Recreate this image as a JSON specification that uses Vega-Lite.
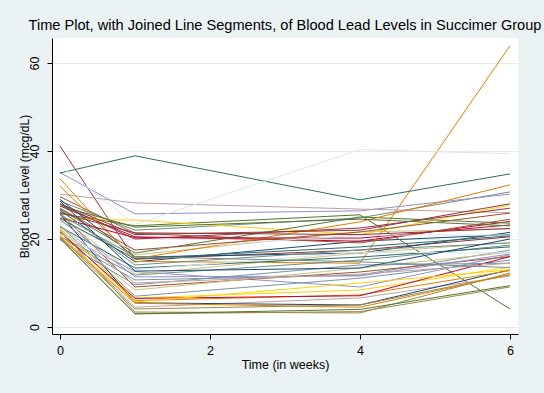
{
  "$schema": "https://vega.github.io/schema/vega-lite/v6.json",
  "width": 466,
  "height": 296,
  "autosize": "none",
  "padding": {"left": 52, "top": 38, "right": 26, "bottom": 59},
  "background": "#EAF2F3",
  "view": {"fill": "white", "stroke": null},
  "title": {
    "text": "Time Plot, with Joined Line Segments, of Blood Lead Levels in Succimer Group",
    "font": "Liberation Sans",
    "fontSize": 14.6,
    "fontWeight": "normal",
    "color": "#000000",
    "anchor": "middle",
    "offset": 5
  },
  "datasets": {
    "lead": [
      {"id": 1, "w0": 26.5, "w1": 14.8, "w4": 19.5, "w6": 21.0},
      {"id": 2, "w0": 41.1, "w1": 15.4, "w4": 17.5, "w6": 20.5},
      {"id": 3, "w0": 25.8, "w1": 23.0, "w4": 25.5, "w6": 4.1},
      {"id": 4, "w0": 33.7, "w1": 14.9, "w4": 14.5, "w6": 63.9},
      {"id": 5, "w0": 28.6, "w1": 22.0, "w4": 24.8, "w6": 30.7},
      {"id": 6, "w0": 27.5, "w1": 20.5, "w4": 19.5, "w6": 24.0},
      {"id": 7, "w0": 35.1, "w1": 25.7, "w4": 26.4, "w6": 30.2},
      {"id": 8, "w0": 24.0, "w1": 16.4, "w4": 21.6, "w6": 22.3},
      {"id": 9, "w0": 29.6, "w1": 21.3, "w4": 19.1, "w6": 24.5},
      {"id": 10, "w0": 20.4, "w1": 10.7, "w4": 11.8, "w6": 17.5},
      {"id": 11, "w0": 35.0, "w1": 38.9, "w4": 28.9, "w6": 34.8},
      {"id": 12, "w0": 22.2, "w1": 3.4, "w4": 3.2, "w6": 12.3},
      {"id": 13, "w0": 30.2, "w1": 28.2, "w4": 26.8, "w6": 26.0},
      {"id": 14, "w0": 24.5, "w1": 24.3, "w4": 21.0, "w6": 27.7},
      {"id": 15, "w0": 36.6, "w1": 23.3, "w4": 40.3, "w6": 39.4},
      {"id": 16, "w0": 29.0, "w1": 15.9, "w4": 16.8, "w6": 21.5},
      {"id": 17, "w0": 27.9, "w1": 20.0, "w4": 22.5, "w6": 27.0},
      {"id": 18, "w0": 26.8, "w1": 16.8, "w4": 25.0, "w6": 23.6},
      {"id": 19, "w0": 32.0, "w1": 15.5, "w4": 23.9, "w6": 32.3},
      {"id": 20, "w0": 20.6, "w1": 11.8, "w4": 15.2, "w6": 18.6},
      {"id": 21, "w0": 24.8, "w1": 20.3, "w4": 20.2, "w6": 23.2},
      {"id": 22, "w0": 21.4, "w1": 12.6, "w4": 9.1, "w6": 16.4},
      {"id": 23, "w0": 25.0, "w1": 12.0, "w4": 16.8, "w6": 19.2},
      {"id": 24, "w0": 26.0, "w1": 9.1, "w4": 12.5, "w6": 16.0},
      {"id": 25, "w0": 23.0, "w1": 7.0, "w4": 11.1, "w6": 15.2},
      {"id": 26, "w0": 22.8, "w1": 13.4, "w4": 15.9, "w6": 18.2},
      {"id": 27, "w0": 20.1, "w1": 3.0, "w4": 3.5, "w6": 9.1},
      {"id": 28, "w0": 21.0, "w1": 4.5, "w4": 6.6, "w6": 11.6},
      {"id": 29, "w0": 22.5, "w1": 6.6, "w4": 8.4, "w6": 13.6},
      {"id": 30, "w0": 23.5, "w1": 17.5, "w4": 20.9, "w6": 20.9},
      {"id": 31, "w0": 25.7, "w1": 5.5, "w4": 5.0, "w6": 13.0},
      {"id": 32, "w0": 28.0, "w1": 21.0, "w4": 22.0, "w6": 28.0},
      {"id": 33, "w0": 20.2, "w1": 3.0, "w4": 4.0, "w6": 9.4},
      {"id": 34, "w0": 21.8, "w1": 6.0, "w4": 7.3, "w6": 12.8},
      {"id": 35, "w0": 26.7, "w1": 14.1, "w4": 17.5, "w6": 19.1},
      {"id": 36, "w0": 21.5, "w1": 6.5, "w4": 7.1, "w6": 16.0},
      {"id": 37, "w0": 24.4, "w1": 11.4, "w4": 11.6, "w6": 16.6},
      {"id": 38, "w0": 22.0, "w1": 8.4, "w4": 13.4, "w6": 17.0},
      {"id": 39, "w0": 27.0, "w1": 17.5, "w4": 21.6, "w6": 25.9},
      {"id": 40, "w0": 19.8, "w1": 9.6, "w4": 14.1, "w6": 14.5},
      {"id": 41, "w0": 24.7, "w1": 15.5, "w4": 18.2, "w6": 20.7},
      {"id": 42, "w0": 20.5, "w1": 4.1, "w4": 5.0, "w6": 11.9},
      {"id": 43, "w0": 23.0, "w1": 10.0, "w4": 12.0, "w6": 14.5},
      {"id": 44, "w0": 20.8, "w1": 5.7, "w4": 10.0, "w6": 13.0},
      {"id": 45, "w0": 21.2, "w1": 13.0, "w4": 17.0, "w6": 16.8},
      {"id": 46, "w0": 28.6, "w1": 12.7, "w4": 13.4, "w6": 20.0},
      {"id": 47, "w0": 26.0, "w1": 21.4, "w4": 21.0, "w6": 22.4},
      {"id": 48, "w0": 27.5, "w1": 22.7, "w4": 24.5, "w6": 23.0},
      {"id": 49, "w0": 20.4, "w1": 5.4, "w4": 4.5, "w6": 11.9},
      {"id": 50, "w0": 25.5, "w1": 16.0, "w4": 14.8, "w6": 13.5}
    ]
  },
  "data": {"name": "lead"},
  "transform": [
    {"fold": ["w0", "w1", "w4", "w6"], "as": ["wk", "lead"]},
    {"lookup": "wk", "from": {"data": {"values": [
      {"wk": "w0", "week": 0}, {"wk": "w1", "week": 1}, {"wk": "w4", "week": 4}, {"wk": "w6", "week": 6}
    ]}, "key": "wk", "fields": ["week"]}}
  ],
  "mark": {"type": "line", "strokeWidth": 1, "clip": true},
  "encoding": {
    "x": {
      "field": "week", "type": "quantitative",
      "scale": {"domain": [-0.1067, 6.107], "nice": false, "zero": false},
      "axis": {
        "title": "Time (in weeks)",
        "values": [0, 2, 4, 6],
        "grid": false,
        "domainColor": "#000000", "tickColor": "#000000", "tickSize": 5,
        "labelFont": "Liberation Sans", "labelFontSize": 12.5, "labelColor": "#000000", "labelPadding": 5,
        "titleFont": "Liberation Sans", "titleFontSize": 12.5, "titleFontWeight": "normal", "titleColor": "#000000", "titlePadding": 2
      }
    },
    "y": {
      "field": "lead", "type": "quantitative",
      "scale": {"domain": [-1.59, 65.68], "nice": false, "zero": false},
      "axis": {
        "title": "Blood Lead Level (mcg/dL)",
        "values": [0, 20, 40, 60],
        "grid": true, "gridColor": "#E4ECEE", "gridWidth": 1,
        "domainColor": "#000000", "tickColor": "#000000", "tickSize": 5,
        "labelAngle": -90, "labelAlign": "center", "labelBaseline": "bottom", "labelPadding": 6,
        "labelFont": "Liberation Sans", "labelFontSize": 12.5, "labelColor": "#000000",
        "titleFont": "Liberation Sans", "titleFontSize": 12, "titleFontWeight": "normal", "titleColor": "#000000",
        "titleAngle": -90, "titleX": -21, "titleY": 148, "titleAlign": "center", "titleBaseline": "bottom"
      }
    },
    "color": {
      "field": "id", "type": "nominal", "legend": null,
      "scale": {"range": ["#1a476f", "#90353b", "#55752f", "#e37e00", "#6e8e84", "#c10534", "#938dd2", "#cac27e", "#a0522d", "#7b92a8", "#2d6d66", "#9c8847", "#bfa19c", "#ffd200", "#d9e6eb"]}
    },
    "detail": {"field": "id"}
  }
}
